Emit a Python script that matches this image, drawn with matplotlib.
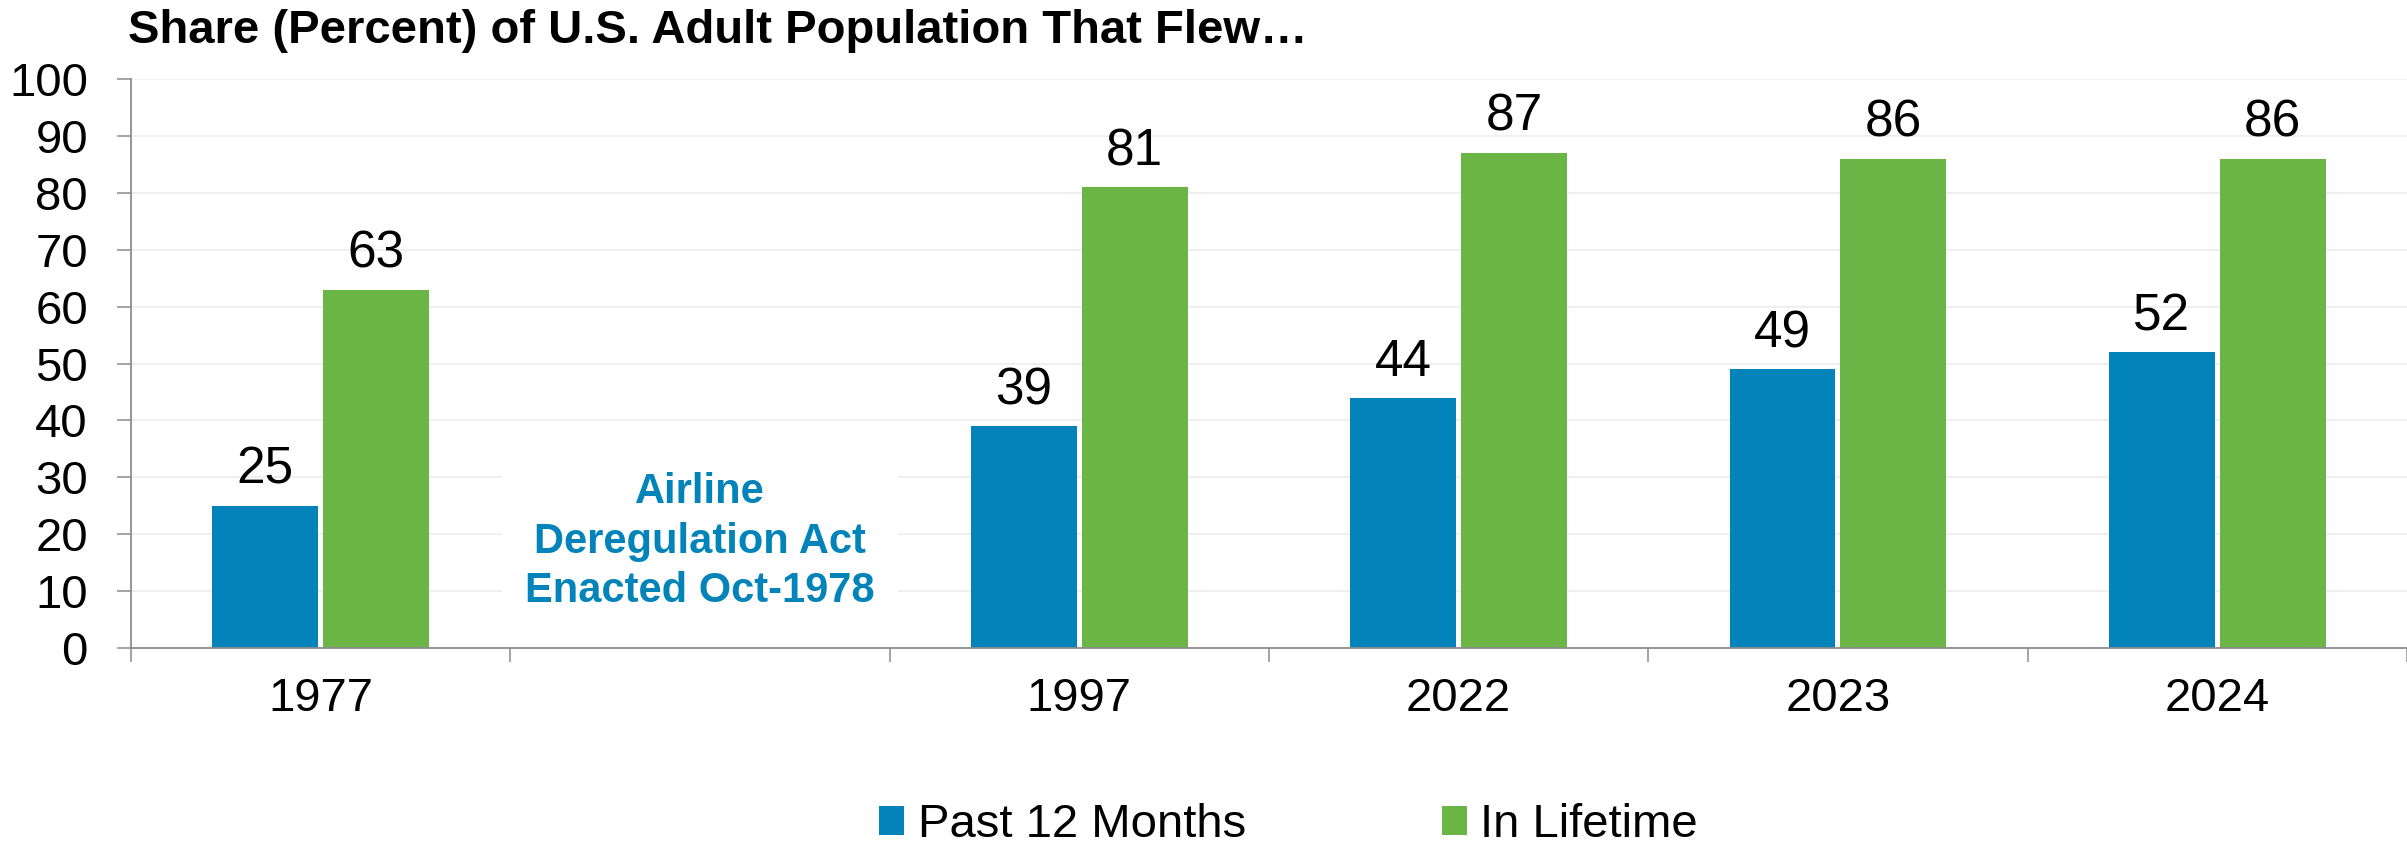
"""
Share of U.S. adults that flew, past 12 months vs. lifetime, grouped bars
with an empty slot marking the 1978 deregulation act.
"""
import matplotlib.pyplot as plt
import numpy as np

plt.rcParams['font.family'] = ['Liberation Sans', 'DejaVu Sans']

# data
categories = ['1977', '', '1997', '2022', '2023', '2024']
past_12_months = [25, np.nan, 39, 44, 49, 52]
in_lifetime = [63, np.nan, 81, 87, 86, 86]
series_names = ['Past 12 Months', 'In Lifetime']
y_ticks = [0, 10, 20, 30, 40, 50, 60, 70, 80, 90, 100]
title = 'Share (Percent) of U.S. Adult Population That Flew\u2026'
note = 'Airline\nDeregulation Act\nEnacted Oct-1978'

blue = '#0284BB'
green = '#6AB545'
axis_grey = '#8C8C8C'

fig = plt.figure(figsize=(24.07, 8.51), dpi=100)
ax = fig.add_axes([0.0544, 0.2385, 0.9456, 0.6686])

x = np.arange(len(categories))
past = np.array(past_12_months, dtype=float)
life = np.array(in_lifetime, dtype=float)
has_data = ~np.isnan(past)

width = 0.279
offset = width / 2 + 0.0066

b1 = ax.bar(x[has_data] - offset, past[has_data], width, color=blue,
            label=series_names[0], zorder=3)
b2 = ax.bar(x[has_data] + offset, life[has_data], width, color=green,
            label=series_names[1], zorder=3)
ax.bar_label(b1, fmt='%d', padding=8, fontsize=37)
ax.bar_label(b2, fmt='%d', padding=8, fontsize=37)

# note sits in the empty slot, white box hides the gridlines behind it
ax.text(x[~has_data][0], 18.7, note, ha='center', va='center', fontsize=30,
        fontweight='bold', color=blue, linespacing=1.3, zorder=2,
        bbox=dict(boxstyle='square,pad=0.55', facecolor='white', edgecolor='none'))

ax.set_xlim(-0.5, len(categories) - 0.5)
ax.set_ylim(0, 100)
ax.set_yticks(y_ticks)
ax.set_xticks(x)
ax.set_xticklabels(categories)
ax.set_xticks(np.arange(len(categories) + 1) - 0.5, minor=True)

ax.tick_params(axis='x', which='major', length=0, pad=21, labelsize=34)
ax.tick_params(axis='x', which='minor', length=10, width=1.1, color=axis_grey, direction='out')
ax.tick_params(axis='y', length=10, width=1.1, color=axis_grey, pad=21, labelsize=34)

ax.grid(axis='y', color='#EEEEEE', linewidth=1.3, zorder=0)
ax.set_axisbelow(True)
for side in ['top', 'right']:
    ax.spines[side].set_visible(False)
for side in ['left', 'bottom']:
    ax.spines[side].set_color(axis_grey)
    ax.spines[side].set_linewidth(1.3)
    ax.spines[side].set_zorder(4)

fig.text(128 / 2407, 1 - 43 / 851, title, fontsize=34, fontweight='bold',
         ha='left', va='baseline')

fig.legend(loc='center', bbox_to_anchor=(0.5353, 0.03), ncol=2, frameon=False,
           fontsize=34, handlelength=0.53, handleheight=0.57,
           handletextpad=0.28, columnspacing=4.15)

fig.savefig('out.png', dpi=100)
